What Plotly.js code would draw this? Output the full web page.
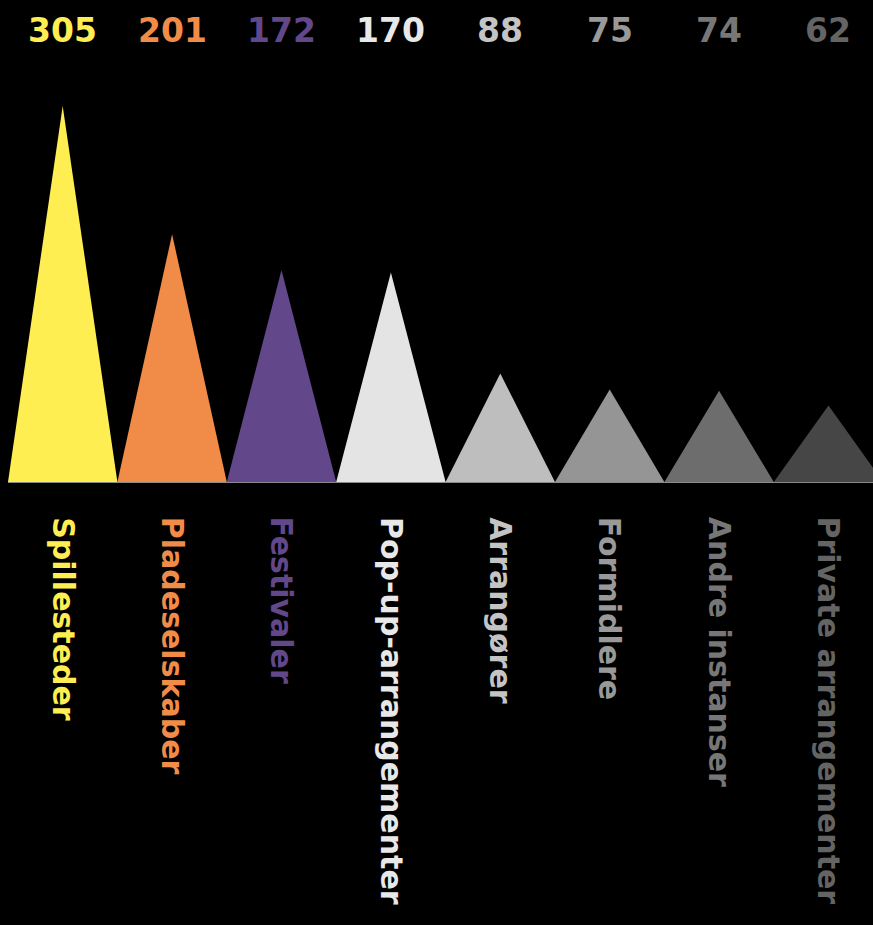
<!DOCTYPE html>
<html>
<head>
<meta charset="utf-8">
<script src="https://cdn.plot.ly/plotly-3.0.1.min.js"></script>
<style>html,body{margin:0;padding:0;background:#000;}#chart{width:873px;height:925px;}</style>
</head>
<body>
<div id="chart"></div>
<script>
const categories = ["Spillesteder", "Pladeselskaber", "Festivaler", "Pop-up-arrangementer", "Arrangører", "Formidlere", "Andre instanser", "Private arrangementer"];
const values = [305, 201, 172, 170, 88, 75, 74, 62];
const fillColors = ["#FFEE52", "#F08C48", "#62488B", "#E4E4E4", "#BEBEBE", "#959595", "#6D6D6D", "#464646"];
const textColors = ["#FFEE52", "#F08C48", "#62488B", "#E8E8E8", "#C4C4C4", "#999999", "#777777", "#646464"];

const FONT = "'DejaVu Sans', sans-serif";

const traces = categories.map((c, i) => ({
  type: "scatter",
  mode: "lines",
  x: [i - 0.5, i, i + 0.5, i - 0.5],
  y: [0, values[i], 0, 0],
  fill: "toself",
  fillcolor: fillColors[i],
  line: {width: 0, color: fillColors[i]},
  hoverinfo: "skip",
  showlegend: false
}));

const annotations = [];
categories.forEach((c, i) => {
  annotations.push({
    x: i, xref: "x", y: 1.071, yref: "paper",
    text: String(values[i]), showarrow: false,
    xanchor: "center", yanchor: "middle",
    font: {family: FONT, size: 33, color: textColors[i], weight: 700}
  });
  annotations.push({
    x: i, xref: "x", y: -0.078, yref: "paper",
    text: c, showarrow: false, textangle: 90,
    xanchor: "center", yanchor: "top",
    font: {family: FONT, size: 30, color: textColors[i], weight: 700}
  });
});

const layout = {
  width: 873, height: 925,
  paper_bgcolor: "#000", plot_bgcolor: "#000",
  margin: {l: 8, r: 0, t: 60, b: 443},
  xaxis: {range: [-0.5, 7.407], showgrid: false, zeroline: false, showticklabels: false,
          showline: true, linecolor: "#8a8a8a", linewidth: 1, ticks: ""},
  yaxis: {range: [0, 342.3], showgrid: false, zeroline: false, showticklabels: false, ticks: ""},
  annotations: annotations,
  showlegend: false
};

Plotly.newPlot("chart", traces, layout, {displayModeBar: false, staticPlot: true});
</script>
</body>
</html>
